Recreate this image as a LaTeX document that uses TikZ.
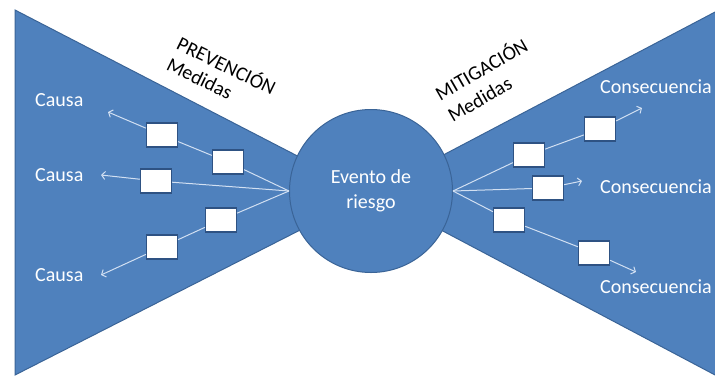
\documentclass[tikz,border=0pt]{standalone}
\usepackage{fontspec}
\setmainfont{Carlito}
\usetikzlibrary{arrows.meta}
\definecolor{bowblue}{HTML}{4F81BD}
\definecolor{bowedge}{HTML}{3A6497}
\definecolor{boxedge}{HTML}{2E5283}
\definecolor{linkline}{HTML}{D2E0F2}
\tikzset{
  medida/.style={draw=boxedge, fill=white, line width=1.3pt,
    minimum width=31pt, minimum height=24pt, inner sep=0pt},
  rotulo/.style={text=white, inner sep=0pt, font=\fontsize{20}{24}\selectfont},
  titulo/.style={text=black, inner sep=0pt, align=left},
}
\begin{document}
\begin{tikzpicture}[x=1pt,y=-1pt]
  \useasboundingbox (0,0) rectangle (715,376);
  % las dos alas
  \filldraw[fill=bowblue, draw=bowedge, line width=1pt]
    (15,10) -- (371,194) -- (15,375) -- cycle;
  \filldraw[fill=bowblue, draw=bowedge, line width=1pt]
    (717,11) -- (371,193) -- (717,376) -- cycle;
  \node[circle, minimum size=163pt, fill=bowblue, draw=bowedge, line width=1pt,
    text=white, align=center, font=\fontsize{20}{25}\selectfont]
    (evento) at (371,191) {Evento de\\riesgo};

  \node[titulo, rotate=-26, font=\fontsize{20}{23}\selectfont]
    (prev) at (222,75) {PREVENCIÓN\\Medidas};
  \node[titulo, rotate=30, font=\fontsize{20}{25}\selectfont]
    (miti) at (487,79) {MITIGACIÓN\\Medidas};

  \node[rotulo, anchor=west] (c1) at (35,100) {Causa};
  \node[rotulo, anchor=west] (c2) at (35,175) {Causa};
  \node[rotulo, anchor=west] (c3) at (35,275) {Causa};
  \node[rotulo, anchor=west] (q1) at (600,87) {Consecuencia};
  \node[rotulo, anchor=west] (q2) at (600,187) {Consecuencia};
  \node[rotulo, anchor=west] (q3) at (600,287) {Consecuencia};

  \coordinate (t1) at (108,112);
  \coordinate (t2) at (101,175);
  \coordinate (t3) at (101,275);
  \coordinate (u1) at (642,108);
  \coordinate (u2) at (582,181);
  \coordinate (u3) at (636,272);

  \node[medida] (p1) at (162,135) {};
  \node[medida] (p2) at (228,162) {};
  \node[medida] (p3) at (156,181) {};
  \node[medida] (p4) at (221,220) {};
  \node[medida] (p5) at (162,247) {};
  \node[medida] (m1) at (529,155) {};
  \node[medida] (m2) at (600,129) {};
  \node[medida] (m3) at (548,188) {};
  \node[medida] (m4) at (509,220) {};
  \node[medida] (m5) at (594,253) {};

  \begin{scope}[draw=linkline, line width=1pt]
    \draw (evento.west) to (p2);
    \draw (p2) to (p1);
    \draw (evento.west) to (p3);
    \draw (evento.west) to (p4);
    \draw (p4) to (p5);
    \draw (evento.east) to (m1);
    \draw (m1) to (m2);
    \draw (evento.east) to (m3);
    \draw (evento.east) to (m4);
    \draw (m4) to (m5);
  \end{scope}
  \begin{scope}[draw=linkline, line width=1pt,
      -{Straight Barb[length=3.5pt,width=8pt]}]
    \draw (p1) to (t1);
    \draw (p3) to (t2);
    \draw (p5) to (t3);
    \draw (m2) to (u1);
    \draw (m3) to (u2);
    \draw (m5) to (u3);
  \end{scope}
\end{tikzpicture}
\end{document}
